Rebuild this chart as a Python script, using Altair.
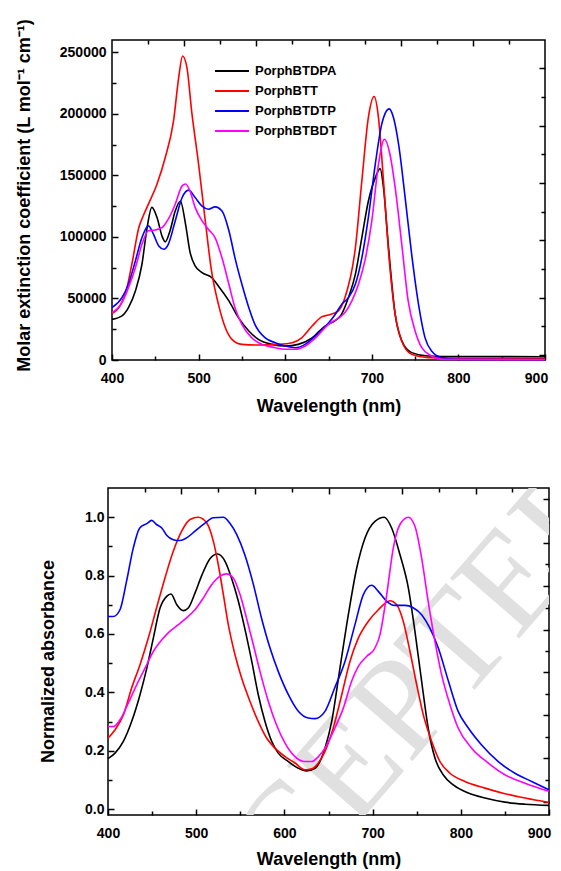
import altair as alt
import pandas as pd

FONT = "Liberation Sans"
SERIES = ["PorphBTDPA", "PorphBTT", "PorphBTDTP", "PorphBTBDT"]
COLORS = ["#000000", "#ff0000", "#0000ff", "#ff00ff"]

# ---------------- top panel: molar extinction coefficient ----------------
top_dpa_wl = [400, 411.5, 419, 427, 434.6, 440, 446, 452, 457.7, 461.5, 467, 473, 479, 485, 490, 496, 504, 515, 523,
              535, 546, 558, 569, 585, 600, 615, 631, 646, 657.7, 665, 673, 681, 688.5, 696, 704, 709.6, 713.5, 719,
              727, 734.6, 746, 765, 800, 900]
top_dpa_val = [33000, 35800, 42500, 56000, 77800, 105000, 124000, 115700, 100800, 96000, 105000, 121000, 129000,
               110000, 88000, 76400, 71000, 67000, 60000, 48000, 34400, 23600, 16800, 12700, 11400, 12700, 18000,
               27600, 32000, 37000, 50700, 69600, 99500, 129000, 148000, 155500, 140000, 94000, 37000, 15500, 6000,
               3250, 2800, 2700]

top_btt_wl = [400, 410, 417, 423, 431, 436, 442, 452, 461.5, 471, 477, 481.5, 486.5, 492, 500, 507.7, 515, 523, 531,
              538.5, 550, 569, 592, 608, 619, 631, 642, 650, 661.5, 669, 681, 688.5, 696, 702.7, 707.7, 713.5, 719,
              727, 734.6, 746, 765, 800, 900]
top_btt_val = [37700, 45000, 58000, 78000, 107600, 117000, 126600, 143000, 164500, 194000, 229500, 247000, 237700,
               202000, 159000, 113000, 72000, 45000, 26000, 16800, 12700, 12200, 12700, 14000, 18000, 27600, 35000,
               36600, 40000, 50700, 91000, 145500, 197000, 214000, 197000, 145500, 91000, 37000, 15500, 4600, 1900,
               1500, 1400]

top_dtp_wl = [400, 411.5, 419, 427, 434.6, 442, 448, 454, 460, 465, 473, 481, 488.5, 496, 504, 511.5, 519, 527, 535,
              542, 550, 558, 565, 577, 588.5, 600, 612, 623, 635, 650, 657.7, 665, 673, 681, 688.5, 696, 704, 711.5,
              720, 725, 731, 738.5, 746, 754, 761.5, 769, 781, 800, 900]
top_dtp_val = [42500, 50700, 61500, 80500, 99500, 109000, 102000, 92700, 90000, 94000, 113000, 132000, 138000,
               132000, 125000, 122500, 124400, 121000, 105000, 83000, 61500, 42500, 29000, 18000, 14000, 11400,
               10000, 12700, 19500, 30000, 37000, 45000, 50700, 61500, 83000, 115700, 159000, 191600, 204000, 197000,
               175000, 132000, 86000, 45000, 18000, 7300, 1900, 500, 300]

top_bdt_wl = [400, 411.5, 419, 427, 434.6, 442, 450, 457.7, 465, 473, 481, 485, 490, 496, 504, 511.5, 519, 527, 535,
              542, 550, 561.5, 573, 588.5, 600, 612, 623, 635, 650, 661.5, 669, 677, 684.6, 692, 700, 707.7, 714.6,
              721, 727, 734.6, 742, 750, 757.7, 769, 781, 900]
top_bdt_val = [38500, 46600, 58800, 75000, 94000, 105000, 105700, 107600, 114400, 126600, 141500, 143000, 137400,
               124000, 113000, 106000, 99500, 83000, 61500, 42500, 29000, 18000, 12700, 10000, 8700, 8700, 11400,
               18000, 29000, 34000, 38500, 48000, 61500, 80500, 113000, 159000, 179400, 167000, 140000, 94000, 48000,
               23600, 10000, 3250, 500, 200]

# ---------------- bottom panel: normalized absorbance ----------------
bot_dpa_wl = [400, 408, 417.4, 426.8, 436.3, 444, 451.4, 459, 466.5, 471.4, 478, 485.4, 491, 498.6, 506, 515.6, 524.3,
              532.7, 540, 547.8, 555, 563, 570.4, 578, 585.6, 593, 604.5, 615.8, 625, 634.7, 646, 653.6, 663, 672.5,
              682, 691.4, 702.7, 713.3, 721.6, 731, 740.5, 748, 755.6, 763, 770.7, 780, 791.5, 808.5, 827.4, 850,
              872.8, 900]
bot_dpa_val = [0.173, 0.192, 0.232, 0.30, 0.392, 0.483, 0.586, 0.689, 0.729, 0.737, 0.70, 0.68, 0.689, 0.74, 0.798,
               0.858, 0.874, 0.849, 0.792, 0.712, 0.62, 0.506, 0.392, 0.30, 0.232, 0.192, 0.163, 0.14, 0.131, 0.14,
               0.209, 0.30, 0.483, 0.666, 0.826, 0.929, 0.986, 1.0, 0.963, 0.872, 0.758, 0.609, 0.438, 0.278, 0.175,
               0.118, 0.083, 0.055, 0.038, 0.024, 0.017, 0.013]

bot_btt_wl = [400, 408, 417.4, 426.8, 436.3, 445.7, 455, 464.6, 474, 483.5, 493, 502.4, 512, 519.4, 525, 530.8,
              536.4, 544, 551.5, 561, 570.4, 580, 589.3, 600.7, 612, 623.3, 631, 638.5, 646, 655.4, 665, 674.3, 683.8,
              695, 706.5, 719.7, 727.3, 734.8, 742.4, 750, 757.5, 767, 776.4, 787.7, 804.7, 827.4, 850, 872.8, 900]
bot_btt_val = [0.243, 0.272, 0.323, 0.415, 0.495, 0.586, 0.689, 0.792, 0.883, 0.952, 0.992, 1.0, 0.98, 0.918, 0.838,
               0.735, 0.632, 0.529, 0.449, 0.369, 0.30, 0.243, 0.209, 0.18, 0.158, 0.135, 0.138, 0.158, 0.198, 0.278,
               0.392, 0.506, 0.586, 0.643, 0.683, 0.714, 0.70, 0.643, 0.54, 0.426, 0.323, 0.232, 0.163, 0.123, 0.095,
               0.072, 0.053, 0.038, 0.023]

bot_dtp_wl = [400, 406, 413.6, 421, 428.7, 436, 444, 449.5, 455, 461, 466.5, 474, 481.6, 489, 498.6, 510, 519.4,
              530.8, 538, 546, 555, 564.8, 574, 583.7, 593, 604.5, 615.8, 627, 634.7, 646, 657, 668.7, 680, 689.5,
              699, 706.5, 716, 725, 736.7, 746, 755.6, 765, 774.5, 786, 797, 808.5, 823.6, 842.5, 861.4, 880.3, 900]
bot_dtp_val = [0.66, 0.66, 0.683, 0.78, 0.895, 0.963, 0.978, 0.989, 0.975, 0.963, 0.938, 0.923, 0.92, 0.929, 0.952,
               0.98, 0.998, 1.0, 0.98, 0.94, 0.872, 0.77, 0.655, 0.552, 0.472, 0.392, 0.335, 0.312, 0.31, 0.335,
               0.415, 0.506, 0.632, 0.735, 0.767, 0.746, 0.712, 0.698, 0.698, 0.69, 0.666, 0.62, 0.552, 0.438, 0.335,
               0.278, 0.22, 0.163, 0.123, 0.095, 0.066]

bot_bdt_wl = [400, 406, 413.6, 423, 432.5, 442, 451.4, 461, 470, 479.7, 489, 498.6, 508, 517.5, 527, 534.5, 542,
              549.7, 557, 564.8, 572.3, 581.8, 591, 600.7, 612, 623.3, 631, 638.5, 646, 657.3, 666.8, 676.2, 683.8,
              693.2, 702.7, 708.4, 716, 723.5, 731, 740.5, 748, 755.6, 763, 770.7, 778.3, 787.7, 797, 812.3, 831.2,
              850, 872.8, 900]
bot_bdt_val = [0.283, 0.283, 0.306, 0.363, 0.426, 0.483, 0.54, 0.58, 0.609, 0.632, 0.655, 0.683, 0.723, 0.769, 0.798,
               0.806, 0.792, 0.735, 0.655, 0.563, 0.472, 0.369, 0.289, 0.226, 0.18, 0.163, 0.163, 0.18, 0.209, 0.278,
               0.346, 0.438, 0.489, 0.523, 0.552, 0.598, 0.735, 0.895, 0.975, 1.0, 0.969, 0.86, 0.712, 0.575, 0.46,
               0.358, 0.278, 0.209, 0.158, 0.118, 0.089, 0.061]

# axis tick positions
x_major = [400, 500, 600, 700, 800, 900]
x_minor = [450, 550, 650, 750, 850]
x_top_major = [483.3, 566.7, 650, 733.3, 816.7]
x_top_minor = [441.7, 525, 608.3, 691.7, 775, 858.3]
top_y_major = [0, 50000, 100000, 150000, 200000, 250000]
top_y_minor = [25000, 75000, 125000, 175000, 225000]
top_right_major = [4000, 50500, 97500, 144000, 190500, 237500]
top_right_minor = [27500, 74000, 120500, 167500, 214000]
bot_y_major = [0.0, 0.2, 0.4, 0.6, 0.8, 1.0]
bot_y_minor = [0.1, 0.3, 0.5, 0.7, 0.9]
bot_right_major = [0.024, 0.175, 0.323, 0.470, 0.615, 0.763, 0.912, 1.061]
bot_right_minor = [0.101, 0.248, 0.395, 0.543, 0.689, 0.838, 0.984]


def frame(wls, vals):
    rows = []
    for s, (w, v) in zip(SERIES, zip(wls, vals)):
        for a, b in zip(w, v):
            rows.append({"wl": a, "val": b, "series": s})
    return pd.DataFrame(rows)


top_df = frame([top_dpa_wl, top_btt_wl, top_dtp_wl, top_bdt_wl],
               [top_dpa_val, top_btt_val, top_dtp_val, top_bdt_val])
bot_df = frame([bot_dpa_wl, bot_btt_wl, bot_dtp_wl, bot_bdt_wl],
               [bot_dpa_val, bot_btt_val, bot_dtp_val, bot_bdt_val])


def axis(orient, values, size, labels=False, title=None, **kw):
    args = dict(orient=orient, values=values, tickSize=size, offset=-size, domain=False, grid=False,
                tickColor="black", tickWidth=1.5, labels=labels, title=title,
                labelFont=FONT, labelFontSize=14, labelFontWeight="bold", labelColor="black",
                titleFont=FONT, titleFontSize=18, titleFontWeight="bold", titleColor="black",
                labelFlush=False, labelOverlap=False)
    args.update(kw)
    return alt.Axis(**args)


def panel(df, ydomain, w, h, ymaj, ymin, rmaj, rmin, ytitle, yfmt, ylabpad, ytitlepad, ytitleY,
          legend, last_shift, xtitlepad, extra=None):
    xs = alt.Scale(domain=[400, 900], nice=False, zero=False)
    ys = alt.Scale(domain=ydomain, nice=False, zero=False)
    color = alt.Color("series:N", sort=SERIES,
                      scale=alt.Scale(domain=SERIES, range=COLORS), legend=legend)
    lines = alt.Chart(df).mark_line(strokeWidth=1.6, interpolate="monotone").encode(
        x=alt.X("wl:Q", scale=xs,
                axis=axis("bottom", x_major, 6, labels=True, title="Wavelength (nm)",
                          labelPadding=11, titlePadding=xtitlepad,
                          labelOffset={"condition": {"test": "datum.value >= 900", "value": last_shift},
                                       "value": 0})),
        y=alt.Y("val:Q", scale=ys,
                axis=axis("left", ymaj, 6, labels=True, title=ytitle, format=yfmt,
                          labelPadding=ylabpad, titlePadding=ytitlepad, titleY=ytitleY)),
        color=color,
        order=alt.Order("wl:Q"),
    )

    def ghost(xo, xv, xsz, yo, yv, ysz):
        return alt.Chart(df).mark_line(strokeOpacity=0).encode(
            x=alt.X("wl:Q", scale=xs, axis=axis(xo, xv, xsz)),
            y=alt.Y("val:Q", scale=ys, axis=axis(yo, yv, ysz)),
            detail="series:N",
        )

    layers = []
    if extra is not None:
        layers.append(extra)
    layers += [
        ghost("bottom", x_minor, 4, "left", ymin, 4),
        ghost("top", x_top_major, 6, "right", rmaj, 6),
        ghost("top", x_top_minor, 4, "right", rmin, 4),
        lines,
    ]
    return alt.layer(*layers).resolve_axis(x="independent", y="independent").properties(
        width=w, height=h)


legend = alt.Legend(orient="none", legendX=102, legendY=24, title=None, symbolType="stroke",
                    symbolSize=1150, symbolStrokeWidth=2, labelFont=FONT, labelFontSize=13,
                    labelFontWeight="bold", labelColor="black", labelOffset=5, rowPadding=6,
                    clipHeight=14, padding=0)

top = panel(top_df, [0, 260000], 433, 320, top_y_major, top_y_minor, top_right_major, top_right_minor,
            "Molar extinction coefficient (L mol\u207b\u00b9 cm\u207b\u00b9)", "d", 6, 26, 155, legend,
            -9, 12)

wm = alt.Chart(pd.DataFrame({"t": ["ACCEPTED"]})).mark_text(
    clip=True, angle=311, font="Liberation Serif", fontSize=140, color="#e0e0e0",
    align="center", baseline="middle").encode(text="t:N", x=alt.value(262), y=alt.value(258))

bottom = panel(bot_df, [-0.02, 1.1], 441, 327, bot_y_major, bot_y_minor, bot_right_major, bot_right_minor,
               "Normalized absorbance", ".1f", 4, 27, 173, None, -10, 10, extra=wm)

chart = alt.vconcat(top, bottom, spacing=128, bounds="flush", center=True).resolve_scale(
    x="independent", y="independent", color="independent"
).resolve_legend(color="independent").properties(
    padding={"left": 6, "top": 9, "right": 0, "bottom": 0}
).configure_view(stroke="black", strokeWidth=1.5)

chart.save("out.html", embed_options={"renderer": "svg", "actions": False})
